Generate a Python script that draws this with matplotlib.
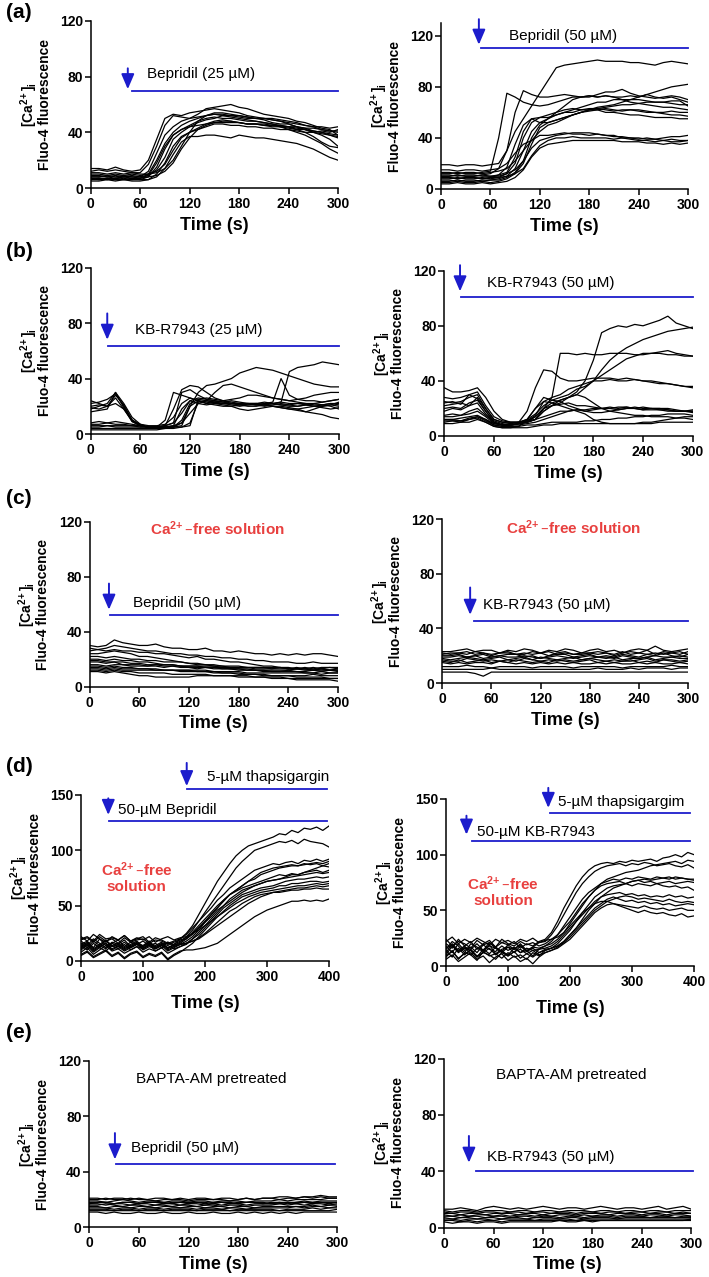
import numpy as np
import matplotlib.pyplot as plt

plt.rcParams['font.family'] = ['Liberation Sans', 'DejaVu Sans']
plt.rcParams['mathtext.default'] = 'regular'

# time axes (s)
t300 = np.arange(0, 301, 10)
t400 = np.arange(0, 401, 10)

# (a) Bepridil 25 uM
bep25 = [
    [14, 14, 13, 15, 13, 12, 13, 20, 35, 50, 53, 52, 54, 55, 56, 57, 56, 55, 54, 52, 51, 50, 50, 49, 48, 47, 45, 44, 42, 41, 40],
    [12, 13, 12, 13, 12, 11, 11, 17, 30, 45, 52, 51, 50, 51, 52, 53, 52, 52, 51, 50, 50, 49, 47, 46, 46, 44, 43, 41, 40, 39, 38],
    [8, 8, 9, 8, 9, 8, 8, 12, 25, 38, 44, 48, 50, 53, 57, 58, 59, 60, 58, 57, 55, 53, 52, 51, 50, 48, 47, 45, 43, 42, 38],
    [7, 7, 6, 7, 8, 7, 7, 10, 20, 32, 40, 45, 48, 50, 52, 54, 54, 53, 52, 51, 50, 50, 49, 48, 46, 44, 42, 40, 38, 35, 30],
    [6, 6, 7, 6, 6, 6, 6, 8, 15, 28, 38, 42, 45, 48, 50, 51, 50, 50, 49, 48, 48, 47, 46, 45, 44, 42, 40, 37, 33, 30, 29],
    [9, 9, 8, 9, 8, 9, 8, 9, 13, 22, 35, 40, 44, 47, 49, 50, 52, 51, 50, 49, 48, 47, 46, 44, 42, 40, 38, 35, 32, 28, 25],
    [5, 5, 6, 5, 6, 5, 5, 6, 10, 18, 30, 37, 40, 42, 44, 46, 46, 45, 45, 44, 44, 43, 43, 42, 42, 41, 40, 40, 41, 40, 42],
    [10, 10, 9, 10, 9, 10, 9, 10, 12, 17, 27, 36, 40, 43, 46, 48, 49, 48, 47, 46, 46, 45, 44, 44, 43, 42, 42, 41, 40, 38, 37],
    [6, 7, 6, 7, 6, 7, 6, 6, 8, 14, 24, 33, 37, 37, 38, 38, 37, 36, 38, 37, 36, 36, 35, 34, 33, 32, 30, 28, 25, 22, 20],
    [11, 11, 10, 11, 10, 11, 10, 10, 11, 14, 20, 30, 40, 48, 52, 53, 53, 52, 52, 51, 50, 50, 49, 48, 47, 46, 45, 44, 44, 43, 44],
    [8, 8, 8, 7, 8, 8, 7, 8, 9, 12, 18, 28, 36, 42, 45, 47, 48, 48, 47, 46, 46, 46, 45, 45, 44, 43, 42, 40, 39, 38, 36],
    [7, 6, 7, 6, 7, 6, 7, 9, 18, 30, 38, 42, 44, 45, 46, 47, 47, 47, 47, 46, 46, 45, 45, 44, 44, 44, 43, 43, 42, 41, 41],
]

# (a) Bepridil 50 uM
bep50 = [
    [19, 19, 18, 19, 19, 18, 19, 20, 30, 45, 55, 65, 75, 85, 95, 97, 98, 99, 100, 101, 100, 100, 100, 99, 99, 98, 97, 99, 100, 99, 98],
    [12, 12, 13, 12, 12, 13, 14, 40, 75, 72, 68, 66, 65, 66, 68, 70, 72, 72, 73, 72, 73, 72, 72, 73, 72, 74, 72, 71, 72, 70, 68],
    [10, 10, 11, 10, 10, 11, 12, 16, 30, 60, 77, 74, 72, 72, 73, 74, 73, 72, 72, 74, 76, 76, 78, 75, 73, 72, 71, 72, 73, 72, 70],
    [9, 9, 8, 9, 9, 8, 9, 11, 17, 35, 50, 55, 52, 52, 54, 56, 58, 60, 62, 64, 65, 66, 68, 70, 72, 74, 76, 78, 80, 81, 82],
    [8, 8, 9, 8, 8, 9, 8, 9, 12, 20, 40, 52, 56, 58, 60, 62, 63, 62, 62, 62, 63, 62, 61, 62, 62, 61, 60, 60, 61, 60, 60],
    [11, 11, 10, 11, 11, 10, 10, 11, 13, 25, 45, 55, 56, 56, 58, 60, 62, 64, 66, 68, 68, 70, 70, 68, 67, 66, 65, 64, 64, 63, 62],
    [6, 6, 7, 6, 6, 7, 7, 8, 10, 16, 30, 45, 52, 55, 58, 60, 60, 62, 63, 63, 62, 61, 62, 62, 61, 60, 60, 59, 58, 58, 57],
    [7, 7, 6, 7, 7, 6, 7, 7, 9, 13, 22, 40, 50, 55, 60, 65, 70, 72, 73, 72, 73, 72, 70, 70, 70, 69, 68, 68, 67, 66, 66],
    [5, 5, 6, 5, 5, 6, 5, 6, 8, 12, 20, 35, 48, 52, 54, 56, 58, 60, 61, 62, 60, 60, 59, 58, 58, 57, 56, 56, 56, 55, 55],
    [13, 13, 12, 13, 13, 12, 13, 14, 16, 22, 30, 38, 42, 42, 43, 44, 43, 43, 42, 43, 42, 41, 41, 40, 40, 39, 39, 38, 39, 38, 38],
    [10, 10, 11, 10, 10, 11, 10, 10, 12, 15, 22, 32, 38, 40, 42, 43, 44, 44, 44, 43, 42, 42, 40, 40, 39, 40, 39, 40, 41, 41, 42],
    [4, 4, 5, 4, 4, 5, 4, 5, 6, 9, 15, 25, 32, 35, 36, 37, 38, 38, 38, 38, 38, 38, 37, 37, 37, 36, 36, 35, 36, 35, 36],
    [9, 9, 8, 9, 9, 8, 9, 9, 10, 12, 16, 26, 34, 38, 40, 40, 41, 40, 40, 40, 40, 39, 40, 39, 38, 38, 37, 38, 37, 37, 38],
    [15, 15, 14, 15, 15, 14, 15, 16, 20, 28, 35, 38, 45, 50, 52, 55, 58, 60, 62, 63, 64, 65, 66, 66, 67, 68, 68, 68, 69, 69, 65],
]

# (b) KB-R7943 25 uM
kb25 = [
    [22, 23, 25, 29, 20, 10, 6, 5, 5, 5, 5, 6, 20, 30, 35, 36, 38, 40, 44, 46, 48, 47, 46, 44, 42, 40, 38, 36, 35, 34, 34],
    [18, 20, 22, 30, 22, 12, 7, 5, 5, 6, 8, 30, 32, 28, 25, 24, 23, 22, 22, 22, 21, 22, 23, 40, 28, 25, 24, 24, 23, 24, 25],
    [20, 21, 20, 28, 21, 10, 6, 5, 5, 5, 5, 5, 6, 25, 26, 25, 24, 23, 22, 22, 22, 23, 22, 23, 45, 48, 49, 50, 52, 51, 50],
    [8, 9, 8, 9, 8, 7, 6, 5, 5, 10, 30, 28, 26, 24, 22, 23, 24, 25, 26, 28, 28, 27, 26, 25, 24, 25, 26, 28, 29, 30, 30],
    [7, 7, 8, 7, 7, 6, 6, 5, 5, 6, 18, 32, 35, 34, 30, 26, 24, 22, 21, 20, 20, 21, 22, 21, 20, 20, 21, 20, 19, 18, 19],
    [5, 5, 6, 5, 5, 5, 5, 5, 5, 5, 6, 8, 20, 24, 23, 22, 22, 21, 20, 21, 22, 21, 20, 20, 19, 18, 16, 15, 14, 12, 11],
    [4, 4, 4, 4, 4, 4, 4, 4, 4, 4, 4, 5, 8, 23, 24, 23, 22, 22, 21, 22, 21, 20, 21, 22, 21, 20, 21, 22, 21, 22, 22],
    [19, 18, 20, 26, 18, 9, 6, 5, 5, 5, 6, 18, 24, 22, 21, 22, 21, 20, 18, 17, 18, 19, 20, 19, 18, 17, 16, 18, 20, 21, 23],
    [24, 22, 20, 22, 18, 10, 7, 6, 6, 7, 12, 22, 26, 24, 22, 21, 20, 20, 21, 22, 22, 21, 22, 23, 22, 22, 21, 20, 20, 21, 20],
    [6, 6, 6, 6, 6, 6, 5, 5, 5, 6, 8, 15, 24, 26, 25, 24, 23, 24, 23, 22, 22, 21, 20, 19, 18, 18, 19, 20, 21, 20, 18],
    [16, 17, 18, 30, 19, 9, 6, 5, 5, 5, 5, 10, 22, 25, 24, 23, 22, 22, 22, 21, 21, 22, 22, 21, 21, 22, 22, 21, 21, 22, 21],
    [3, 3, 3, 3, 3, 3, 3, 3, 3, 4, 5, 8, 15, 22, 24, 30, 35, 36, 34, 32, 30, 28, 26, 25, 24, 23, 22, 22, 23, 24, 25],
]

# (b) KB-R7943 50 uM
kb50 = [
    [35, 32, 32, 33, 35, 28, 18, 12, 10, 10, 12, 20, 28, 26, 25, 22, 20, 18, 17, 17, 18, 19, 20, 20, 21, 20, 20, 19, 18, 18, 18],
    [22, 23, 24, 22, 28, 20, 12, 10, 9, 10, 18, 35, 48, 47, 42, 40, 40, 41, 42, 42, 42, 41, 42, 41, 40, 40, 39, 38, 37, 36, 36],
    [20, 21, 20, 24, 26, 18, 10, 8, 8, 9, 10, 12, 20, 28, 60, 60, 59, 60, 59, 59, 60, 60, 60, 59, 59, 60, 60, 59, 59, 58, 58],
    [18, 20, 19, 22, 24, 16, 10, 8, 8, 9, 10, 12, 18, 22, 24, 28, 32, 40, 55, 75, 78, 80, 79, 81, 80, 82, 84, 87, 82, 80, 78],
    [15, 16, 15, 18, 20, 15, 10, 8, 8, 9, 10, 14, 20, 24, 26, 28, 30, 35, 40, 48, 55, 60, 64, 67, 70, 72, 74, 76, 77, 78, 79],
    [12, 12, 13, 14, 15, 12, 9, 8, 9, 10, 12, 16, 22, 26, 28, 30, 34, 36, 40, 44, 48, 52, 56, 58, 60, 60, 61, 62, 60, 59, 58],
    [10, 11, 10, 12, 14, 12, 8, 7, 8, 9, 11, 15, 25, 28, 30, 34, 36, 38, 40, 40, 41, 40, 40, 41, 40, 39, 38, 38, 37, 36, 35],
    [25, 24, 25, 28, 30, 20, 12, 10, 10, 10, 11, 14, 20, 22, 23, 24, 22, 22, 21, 20, 20, 21, 21, 20, 19, 20, 20, 20, 19, 18, 18],
    [14, 14, 15, 16, 18, 14, 9, 8, 8, 8, 9, 10, 12, 14, 16, 18, 19, 19, 20, 20, 20, 19, 20, 21, 20, 20, 19, 19, 18, 18, 17],
    [12, 12, 11, 13, 14, 11, 8, 7, 7, 7, 8, 8, 9, 10, 10, 10, 10, 11, 11, 12, 12, 13, 13, 14, 14, 15, 15, 16, 16, 16, 15],
    [9, 9, 10, 10, 12, 10, 7, 6, 6, 7, 12, 20, 25, 24, 22, 20, 18, 16, 12, 10, 9, 9, 9, 9, 10, 10, 11, 12, 13, 14, 14],
    [11, 11, 11, 12, 13, 10, 7, 6, 6, 6, 6, 7, 8, 8, 9, 9, 9, 9, 9, 9, 9, 9, 9, 9, 9, 9, 10, 10, 10, 10, 10],
    [24, 25, 23, 30, 27, 18, 11, 9, 8, 9, 10, 12, 18, 22, 26, 28, 30, 28, 24, 20, 18, 17, 16, 15, 15, 14, 14, 14, 13, 13, 12],
    [28, 27, 28, 30, 32, 22, 14, 11, 10, 10, 11, 12, 14, 16, 18, 18, 19, 18, 19, 20, 21, 20, 21, 20, 19, 19, 19, 18, 18, 18, 19],
]

# (c) Ca2+-free, Bepridil 50 uM
free_bep = [
    [30, 29, 30, 34, 32, 31, 30, 30, 31, 29, 28, 28, 27, 27, 28, 26, 26, 25, 26, 25, 24, 24, 23, 24, 23, 24, 23, 24, 24, 23, 22],
    [28, 27, 28, 30, 29, 28, 27, 26, 26, 25, 24, 24, 23, 23, 22, 22, 21, 21, 20, 20, 19, 19, 18, 18, 18, 17, 17, 18, 17, 17, 17],
    [26, 27, 26, 27, 26, 26, 25, 25, 24, 24, 23, 22, 21, 22, 20, 20, 19, 18, 18, 17, 16, 15, 15, 14, 14, 13, 13, 12, 12, 12, 12],
    [22, 22, 21, 22, 21, 20, 20, 19, 19, 18, 18, 18, 17, 17, 16, 16, 15, 15, 15, 14, 14, 14, 13, 13, 13, 13, 13, 12, 13, 12, 13],
    [20, 20, 19, 20, 19, 19, 18, 18, 17, 16, 16, 15, 15, 15, 14, 14, 14, 13, 13, 12, 12, 12, 11, 11, 11, 11, 10, 10, 11, 10, 10],
    [18, 18, 17, 18, 16, 16, 16, 15, 15, 14, 15, 14, 14, 13, 14, 13, 13, 13, 12, 12, 12, 11, 11, 11, 12, 11, 11, 12, 11, 12, 11],
    [16, 16, 15, 16, 16, 15, 15, 15, 16, 15, 15, 15, 14, 14, 14, 14, 13, 13, 13, 13, 12, 12, 12, 12, 12, 13, 12, 12, 13, 12, 12],
    [15, 15, 14, 15, 14, 14, 13, 13, 13, 12, 12, 12, 12, 11, 11, 11, 10, 10, 10, 9, 9, 8, 8, 8, 8, 7, 7, 7, 7, 6, 6],
    [14, 14, 13, 14, 13, 13, 13, 13, 12, 12, 12, 11, 11, 11, 11, 10, 10, 10, 9, 9, 9, 9, 8, 8, 8, 8, 8, 9, 8, 8, 8],
    [13, 13, 12, 13, 12, 12, 12, 12, 12, 12, 12, 12, 12, 12, 12, 11, 11, 11, 11, 10, 10, 10, 10, 10, 10, 10, 10, 10, 9, 10, 10],
    [12, 12, 11, 12, 11, 11, 10, 10, 10, 10, 9, 9, 9, 9, 9, 8, 8, 8, 7, 7, 7, 7, 6, 6, 6, 5, 5, 5, 5, 5, 4],
    [11, 11, 10, 11, 10, 9, 8, 8, 7, 7, 7, 7, 7, 8, 8, 8, 8, 8, 8, 8, 7, 7, 7, 7, 6, 6, 6, 6, 6, 6, 6],
    [19, 19, 18, 18, 18, 17, 17, 16, 16, 16, 16, 15, 15, 15, 15, 15, 14, 14, 14, 14, 14, 14, 14, 14, 13, 14, 13, 14, 13, 14, 13],
    [24, 24, 25, 26, 25, 24, 22, 22, 21, 20, 19, 18, 17, 16, 16, 15, 15, 14, 14, 14, 13, 13, 13, 14, 13, 13, 14, 13, 14, 14, 14],
]

# (c) Ca2+-free, KB-R7943 50 uM
free_kb = [
    [23, 23, 24, 25, 23, 24, 24, 22, 24, 23, 25, 24, 22, 24, 23, 25, 24, 22, 24, 25, 23, 24, 22, 24, 25, 24, 27, 24, 23, 24, 25],
    [22, 21, 22, 23, 21, 22, 20, 22, 23, 21, 21, 23, 22, 20, 22, 23, 21, 21, 22, 23, 22, 20, 22, 23, 22, 24, 21, 23, 22, 21, 23],
    [20, 20, 21, 19, 20, 21, 19, 20, 21, 21, 19, 20, 18, 20, 21, 21, 19, 20, 21, 19, 20, 19, 21, 20, 19, 21, 20, 22, 20, 19, 21],
    [18, 17, 18, 19, 18, 17, 18, 19, 17, 18, 19, 17, 19, 18, 17, 18, 19, 17, 18, 19, 18, 19, 17, 18, 18, 19, 17, 18, 19, 18, 18],
    [17, 16, 16, 18, 17, 16, 17, 16, 17, 16, 18, 17, 16, 17, 16, 17, 16, 17, 18, 17, 16, 17, 16, 16, 17, 18, 16, 17, 17, 16, 17],
    [16, 15, 17, 15, 16, 17, 15, 16, 15, 17, 16, 15, 16, 15, 17, 16, 15, 16, 17, 15, 16, 15, 16, 17, 15, 16, 15, 17, 16, 15, 16],
    [15, 14, 15, 14, 15, 15, 14, 16, 15, 14, 15, 14, 15, 14, 15, 14, 15, 14, 14, 15, 14, 15, 14, 14, 15, 14, 15, 14, 14, 15, 14],
    [19, 19, 20, 19, 20, 18, 19, 20, 19, 19, 20, 19, 18, 19, 20, 19, 18, 19, 20, 19, 19, 18, 20, 19, 18, 19, 20, 19, 19, 20, 19],
    [12, 12, 12, 13, 12, 12, 11, 12, 12, 12, 12, 11, 12, 12, 12, 12, 11, 12, 12, 12, 12, 12, 11, 12, 12, 12, 12, 12, 13, 12, 12],
    [10, 10, 10, 10, 10, 10, 11, 10, 10, 10, 10, 10, 10, 10, 10, 10, 10, 10, 10, 11, 10, 10, 10, 11, 10, 11, 11, 11, 10, 11, 11],
    [8, 8, 8, 8, 7, 5, 8, 8, 8, 8, 8, 8, 8, 8, 8, 8, 8, 8, 8, 8, 8, 8, 8, 8, 8, 8, 8, 8, 8, 8, 8],
    [21, 22, 22, 21, 23, 22, 21, 22, 22, 21, 22, 21, 22, 23, 21, 22, 21, 22, 22, 21, 22, 21, 23, 21, 22, 21, 22, 21, 22, 23, 21],
]

# (d) Ca2+-free, 50 uM Bepridil then 5 uM thapsigargin
tg_bep = [
    [15, 18, 12, 20, 14, 16, 19, 13, 17, 15, 18, 14, 16, 12, 17, 15, 20, 25, 32, 42, 52, 62, 72, 80, 88, 95, 100, 104, 106, 108, 110, 112, 115, 114, 118, 116, 120, 119, 121, 118, 122],
    [12, 16, 10, 14, 18, 13, 15, 11, 14, 17, 12, 15, 13, 16, 12, 14, 17, 22, 28, 36, 44, 52, 60, 68, 76, 84, 90, 95, 100, 102, 104, 106, 108, 107, 109, 106, 110, 108, 107, 106, 103],
    [20, 22, 18, 24, 20, 21, 19, 23, 18, 20, 22, 17, 21, 19, 16, 18, 20, 24, 30, 36, 42, 48, 55, 60, 66, 70, 74, 78, 82, 84, 86, 88, 87, 89, 90, 88, 91, 90, 92, 90, 92],
    [10, 14, 8, 12, 16, 10, 13, 9, 12, 15, 10, 13, 11, 14, 9, 12, 15, 18, 22, 28, 35, 42, 48, 55, 60, 64, 68, 72, 76, 80, 82, 84, 85, 86, 87, 86, 88, 87, 88, 86, 88],
    [18, 14, 20, 16, 12, 17, 15, 19, 13, 16, 14, 18, 12, 15, 17, 14, 16, 20, 26, 32, 38, 44, 50, 55, 60, 63, 66, 68, 70, 72, 74, 76, 78, 77, 79, 78, 80, 81, 82, 80, 82],
    [8, 12, 6, 10, 14, 9, 11, 7, 10, 13, 8, 11, 9, 12, 7, 10, 13, 15, 20, 26, 32, 38, 44, 50, 54, 58, 62, 65, 68, 70, 72, 73, 74, 75, 76, 77, 78, 79, 80, 79, 80],
    [14, 10, 16, 12, 9, 14, 11, 15, 10, 13, 11, 15, 9, 12, 14, 11, 13, 16, 20, 24, 30, 36, 42, 48, 52, 56, 60, 62, 64, 66, 67, 68, 70, 72, 73, 74, 74, 75, 76, 75, 76],
    [5, 8, 3, 6, 9, 4, 7, 2, 6, 8, 3, 6, 4, 7, 1, 5, 8, 12, 16, 22, 28, 34, 40, 45, 50, 54, 58, 60, 62, 64, 65, 66, 68, 68, 70, 70, 71, 72, 72, 71, 72],
    [22, 18, 24, 20, 17, 22, 19, 23, 18, 21, 19, 22, 17, 20, 22, 19, 21, 22, 25, 28, 32, 36, 40, 44, 48, 52, 55, 58, 60, 62, 63, 64, 65, 66, 67, 68, 68, 69, 70, 69, 70],
    [11, 15, 9, 13, 16, 11, 14, 10, 13, 16, 11, 14, 12, 15, 10, 13, 15, 16, 18, 20, 24, 28, 32, 36, 40, 44, 48, 52, 55, 58, 60, 62, 63, 64, 65, 66, 66, 67, 68, 67, 68],
    [16, 12, 18, 14, 11, 16, 13, 17, 12, 15, 13, 17, 11, 14, 16, 13, 15, 16, 18, 21, 25, 30, 35, 40, 45, 48, 52, 55, 58, 60, 61, 62, 62, 63, 64, 64, 65, 65, 66, 65, 65],
    [6, 9, 4, 7, 10, 5, 8, 3, 7, 9, 4, 7, 5, 8, 2, 6, 9, 10, 10, 11, 12, 14, 16, 20, 24, 28, 32, 36, 40, 43, 46, 48, 50, 52, 54, 54, 55, 54, 55, 54, 56],
    [13, 17, 11, 15, 19, 14, 16, 12, 15, 18, 13, 16, 14, 17, 11, 15, 18, 20, 24, 30, 36, 42, 48, 54, 60, 64, 68, 72, 74, 78, 80, 82, 84, 85, 86, 86, 87, 88, 89, 88, 90],
    [19, 21, 17, 22, 18, 20, 16, 21, 17, 19, 20, 16, 19, 18, 15, 17, 19, 21, 25, 30, 35, 40, 46, 50, 56, 60, 64, 66, 68, 70, 72, 73, 74, 76, 78, 78, 80, 82, 84, 86, 85],
]

# (d) Ca2+-free, 50 uM KB-R7943 then 5 uM thapsigargin
tg_kb = [
    [20, 16, 24, 18, 22, 15, 20, 23, 17, 21, 19, 22, 16, 20, 18, 22, 24, 30, 40, 52, 62, 72, 80, 86, 90, 92, 93, 92, 94, 93, 95, 94, 95, 96, 94, 97, 98, 100, 98, 102, 100],
    [15, 22, 18, 12, 20, 17, 14, 21, 16, 13, 19, 15, 20, 14, 17, 21, 22, 28, 36, 46, 56, 66, 74, 80, 85, 88, 90, 91, 92, 90, 92, 91, 93, 92, 90, 91, 92, 90, 89, 91, 88],
    [10, 18, 12, 16, 14, 8, 15, 11, 17, 13, 10, 16, 12, 14, 9, 15, 18, 22, 28, 36, 44, 52, 60, 66, 70, 74, 76, 78, 77, 79, 78, 80, 79, 78, 80, 79, 78, 80, 79, 78, 78],
    [24, 18, 22, 20, 16, 23, 19, 21, 17, 24, 20, 18, 22, 19, 21, 18, 20, 24, 28, 34, 40, 48, 56, 62, 68, 72, 74, 75, 76, 74, 76, 77, 75, 76, 74, 75, 76, 74, 75, 76, 75],
    [8, 14, 6, 12, 10, 5, 13, 9, 11, 7, 12, 8, 10, 6, 12, 9, 14, 16, 20, 26, 32, 40, 48, 55, 62, 66, 70, 72, 73, 74, 72, 74, 73, 72, 74, 72, 71, 72, 70, 71, 68],
    [18, 12, 20, 14, 17, 12, 19, 15, 13, 18, 14, 17, 12, 16, 14, 15, 16, 18, 22, 28, 34, 40, 46, 52, 58, 62, 64, 65, 66, 64, 65, 63, 64, 62, 63, 62, 64, 62, 63, 61, 62],
    [12, 20, 14, 18, 10, 16, 13, 19, 11, 15, 17, 12, 18, 13, 16, 12, 15, 16, 18, 22, 28, 34, 40, 46, 52, 56, 60, 62, 60, 58, 59, 57, 58, 56, 57, 55, 56, 54, 55, 56, 55],
    [6, 10, 4, 8, 12, 6, 9, 3, 8, 11, 5, 9, 4, 7, 2, 8, 12, 14, 16, 20, 24, 30, 36, 42, 48, 52, 55, 56, 55, 54, 53, 52, 54, 52, 51, 52, 50, 51, 52, 50, 50],
    [22, 26, 20, 24, 21, 25, 22, 19, 24, 21, 23, 20, 24, 22, 25, 21, 23, 24, 26, 30, 36, 42, 48, 52, 56, 58, 58, 56, 54, 52, 50, 48, 50, 48, 47, 48, 46, 45, 47, 44, 45],
    [14, 8, 16, 10, 15, 9, 12, 16, 10, 14, 9, 13, 15, 11, 14, 10, 12, 14, 17, 21, 26, 32, 38, 44, 50, 54, 58, 60, 62, 63, 62, 60, 61, 60, 59, 58, 60, 58, 57, 58, 57],
    [16, 19, 13, 17, 15, 20, 14, 18, 16, 12, 17, 15, 19, 13, 17, 16, 18, 20, 24, 30, 38, 46, 54, 62, 68, 74, 78, 80, 82, 84, 85, 86, 88, 90, 91, 92, 93, 94, 92, 95, 94],
    [9, 13, 7, 11, 14, 8, 12, 10, 6, 12, 9, 13, 7, 11, 8, 12, 14, 16, 18, 22, 28, 34, 42, 50, 56, 62, 66, 70, 72, 74, 76, 77, 78, 77, 78, 79, 80, 78, 79, 78, 77],
]

# (e) BAPTA-AM pretreated, Bepridil 50 uM
bapta_bep = [
    [20, 20, 21, 20, 20, 21, 20, 20, 19, 20, 20, 20, 19, 20, 20, 20, 20, 19, 20, 21, 20, 21, 21, 22, 22, 21, 22, 22, 23, 22, 22],
    [19, 19, 18, 19, 20, 19, 18, 19, 19, 18, 19, 19, 18, 19, 19, 18, 19, 19, 19, 18, 19, 19, 19, 20, 19, 20, 20, 20, 20, 21, 21],
    [18, 18, 18, 17, 18, 18, 17, 18, 18, 18, 17, 18, 18, 18, 17, 18, 18, 17, 18, 18, 18, 18, 17, 18, 18, 18, 19, 18, 19, 19, 19],
    [17, 17, 16, 17, 17, 16, 17, 17, 16, 17, 17, 16, 17, 17, 16, 17, 16, 17, 17, 16, 17, 17, 17, 17, 18, 17, 18, 18, 18, 18, 18],
    [16, 16, 17, 16, 15, 16, 16, 15, 16, 16, 15, 16, 16, 15, 16, 16, 15, 16, 16, 15, 16, 16, 16, 17, 16, 17, 16, 17, 17, 16, 17],
    [15, 15, 14, 15, 15, 14, 15, 15, 14, 15, 15, 14, 15, 15, 14, 15, 15, 14, 15, 15, 14, 15, 15, 15, 15, 15, 15, 16, 15, 16, 16],
    [14, 14, 14, 13, 14, 14, 13, 14, 14, 13, 14, 14, 14, 13, 14, 14, 13, 14, 14, 13, 14, 14, 14, 14, 14, 15, 14, 15, 15, 14, 15],
    [13, 13, 13, 12, 13, 13, 12, 13, 13, 12, 13, 13, 13, 12, 13, 13, 13, 12, 13, 13, 13, 13, 13, 12, 13, 13, 13, 14, 13, 14, 14],
    [12, 12, 12, 12, 12, 12, 12, 12, 12, 12, 12, 12, 12, 12, 12, 12, 12, 12, 12, 12, 12, 12, 12, 12, 12, 12, 12, 12, 12, 12, 13],
    [11, 11, 10, 11, 10, 10, 11, 10, 10, 11, 10, 10, 11, 10, 10, 11, 10, 10, 11, 10, 11, 10, 11, 10, 11, 10, 11, 11, 11, 11, 11],
    [21, 21, 20, 21, 21, 20, 21, 20, 21, 21, 20, 21, 20, 21, 21, 20, 21, 21, 20, 21, 20, 21, 21, 20, 21, 21, 22, 21, 22, 21, 21],
    [17, 18, 18, 17, 18, 18, 17, 18, 18, 17, 18, 18, 17, 18, 18, 17, 18, 18, 17, 18, 18, 17, 18, 18, 17, 18, 18, 17, 18, 17, 18],
]

# (e) BAPTA-AM pretreated, KB-R7943 50 uM
bapta_kb = [
    [13, 13, 14, 13, 12, 14, 15, 14, 13, 14, 13, 14, 15, 14, 13, 14, 14, 13, 14, 15, 14, 13, 14, 14, 13, 14, 15, 13, 14, 15, 13],
    [12, 11, 12, 12, 11, 12, 12, 12, 11, 12, 12, 11, 12, 12, 11, 12, 12, 12, 11, 12, 12, 11, 12, 12, 11, 12, 12, 11, 12, 12, 12],
    [10, 10, 9, 10, 10, 9, 10, 10, 10, 9, 10, 10, 9, 10, 10, 10, 9, 10, 10, 10, 9, 10, 10, 10, 9, 10, 10, 9, 10, 10, 10],
    [9, 8, 9, 8, 9, 9, 8, 9, 8, 9, 9, 8, 9, 8, 9, 9, 8, 9, 8, 9, 9, 8, 9, 9, 8, 9, 9, 8, 9, 9, 8],
    [8, 8, 7, 8, 8, 7, 8, 8, 7, 8, 8, 7, 8, 8, 7, 8, 8, 7, 8, 8, 8, 7, 8, 8, 8, 7, 8, 8, 7, 8, 8],
    [7, 6, 7, 7, 6, 7, 7, 6, 7, 7, 6, 7, 7, 7, 6, 7, 7, 6, 7, 7, 7, 6, 7, 7, 7, 7, 7, 7, 7, 7, 7],
    [6, 6, 5, 6, 6, 6, 5, 6, 6, 6, 6, 5, 6, 6, 6, 6, 5, 6, 6, 6, 6, 6, 6, 6, 6, 6, 6, 6, 6, 6, 6],
    [5, 5, 4, 5, 4, 5, 5, 4, 5, 5, 5, 5, 5, 5, 5, 5, 5, 5, 5, 5, 5, 5, 5, 5, 5, 5, 5, 5, 5, 5, 6],
    [4, 3, 4, 4, 3, 4, 4, 3, 4, 4, 4, 4, 4, 4, 5, 4, 4, 5, 4, 5, 5, 5, 5, 5, 5, 5, 5, 5, 5, 5, 5],
    [11, 10, 11, 11, 10, 11, 11, 10, 11, 11, 10, 11, 11, 10, 11, 11, 10, 11, 11, 10, 11, 11, 10, 11, 11, 10, 11, 11, 10, 11, 10],
]

W, H = 709, 1277
BLUE = '#1c1ccc'
RED = '#e8403f'
YLAB1 = '[Ca$^{2\\!+}$]$_{i}$'
YLAB2 = 'Fluo-4 fluorescence'
CAFREE = 'Ca$^{2\\!+}$\u2013free'

fig = plt.figure(figsize=(W / 100, H / 100), dpi=100)


def make_axes(x0, x1, ytop, ybot):
    ax = fig.add_axes([x0 / W, 1 - ybot / H, (x1 - x0) / W, (ybot - ytop) / H])
    # y label drawn as two rotated lines, like the Prism export
    cy = 1 - (ytop + ybot) / 2 / H
    fig.text((x0 - 62) / W, cy, YLAB1, rotation=90, ha='center', va='center',
             fontsize=10, fontweight='bold')
    fig.text((x0 - 46) / W, cy, YLAB2, rotation=90, ha='center', va='center',
             fontsize=10, fontweight='bold')
    return ax


def draw_traces(ax, t, traces, xmax, ymax, xticks, yticks):
    for tr in traces:
        ax.plot(t, tr, color='black', lw=0.9)
    ax.set_xlim(0, xmax)
    ax.set_ylim(0, ymax)
    ax.set_xticks(xticks)
    ax.set_yticks(yticks)
    for s in ['top', 'right']:
        ax.spines[s].set_visible(False)
    for s in ['left', 'bottom']:
        ax.spines[s].set_linewidth(1.1)
    ax.tick_params(direction='out', length=4, width=1.1, labelsize=10)
    ax.tick_params(axis='y', pad=1.5)
    ax.tick_params(axis='x', pad=2.5)
    for lab in ax.get_xticklabels() + ax.get_yticklabels():
        lab.set_fontweight('bold')
    ax.set_xlabel('Time (s)', fontsize=13, fontweight='bold', labelpad=4)


def drug_marker(ax, x_arrow, y_top, y_bot, x_start, x_end, y_line, label, x_text, y_text):
    ax.annotate('', xy=(x_arrow, y_bot), xytext=(x_arrow, y_top),
                arrowprops=dict(arrowstyle='-|>,head_length=0.7,head_width=0.3',
                                color=BLUE, lw=1.4, mutation_scale=13, shrinkA=0, shrinkB=0),
                annotation_clip=False)
    ax.plot([x_start, x_end], [y_line, y_line], color=BLUE, lw=1.3, clip_on=False)
    ax.text(x_text, y_text, label, fontsize=11, ha='left', va='center', clip_on=False)


x300 = [0, 60, 120, 180, 240, 300]
x400 = [0, 100, 200, 300, 400]
y120 = [0, 40, 80, 120]
y150 = [0, 50, 100, 150]
mu = '\u00b5'

# row (a)
ax = make_axes(90.7, 338, 21, 188)
draw_traces(ax, t300, bep25, 300, 120, x300, y120)
drug_marker(ax, 45, 86, 71, 50, 300, 70, f'Bepridil (25 {mu}M)', 68, 82)

ax = make_axes(441, 688, 23, 189)
draw_traces(ax, t300, bep50, 300, 130, x300, y120)
drug_marker(ax, 46, 133, 113, 49, 300, 110.3, f'Bepridil (50 {mu}M)', 82, 119.5)

# row (b)
ax = make_axes(90.7, 339, 267.7, 434)
draw_traces(ax, t300, kb25, 300, 120, x300, y120)
drug_marker(ax, 20, 87, 68, 21, 300, 63.7, f'KB-R7943 (25 {mu}M)', 53, 75)

ax = make_axes(444.3, 692.7, 270.7, 436)
draw_traces(ax, t300, kb50, 300, 120, x300, y120)
drug_marker(ax, 19, 124, 105, 20, 300, 100.7, f'KB-R7943 (50 {mu}M)', 52, 111)

# row (c)
ax = make_axes(89.5, 338, 521.7, 686.7)
draw_traces(ax, t300, free_bep, 300, 120, x300, y120)
drug_marker(ax, 23.5, 75, 56, 25, 300, 52, f'Bepridil (50 {mu}M)', 52, 61)
ax.text(155, 115, CAFREE + ' solution', color=RED, fontsize=11,
        fontweight='bold', ha='center', va='center')

ax = make_axes(442.3, 688, 519.3, 683)
draw_traces(ax, t300, free_kb, 300, 120, x300, y120)
drug_marker(ax, 34, 70, 50, 39, 300, 45.4, f'KB-R7943 (50 {mu}M)', 50, 57.5)
ax.text(160, 114, CAFREE + ' solution', color=RED, fontsize=11,
        fontweight='bold', ha='center', va='center')

# row (d)
ax = make_axes(81, 329, 795, 961)
draw_traces(ax, t400, tg_bep, 400, 150, x400, y150)
ax.xaxis.labelpad = 8
drug_marker(ax, 170.5, 179, 158, 171.5, 396, 155.4, f'5-{mu}M thapsigargin', 204, 166.5)
drug_marker(ax, 44, 147, 132, 45.6, 396, 126.7, f'50-{mu}M Bepridil', 60, 136.4)
ax.text(90, 76, CAFREE + '\nsolution', color=RED, fontsize=11,
        fontweight='bold', ha='center', va='center', linespacing=1.1)

ax = make_axes(446, 694, 799, 966)
draw_traces(ax, t400, tg_kb, 400, 150, x400, y150)
ax.xaxis.labelpad = 8
drug_marker(ax, 165, 160, 142, 168, 394, 137, f'5-{mu}M thapsigargim', 181, 147.6)
drug_marker(ax, 33, 135, 118, 41.5, 394, 112.3, f'50-{mu}M KB-R7943', 49.5, 120)
ax.text(92.5, 67, CAFREE + '\nsolution', color=RED, fontsize=11,
        fontweight='bold', ha='center', va='center', linespacing=1.1)

# row (e)
ax = make_axes(89.3, 337.3, 1061, 1227.3)
draw_traces(ax, t300, bapta_bep, 300, 120, x300, y120)
drug_marker(ax, 31, 68, 49, 32, 297, 46, f'Bepridil (50 {mu}M)', 51, 57)
ax.text(56.5, 107, 'BAPTA-AM pretreated', fontsize=11, ha='left', va='center')

ax = make_axes(444.2, 691.3, 1058.5, 1227.5)
draw_traces(ax, t300, bapta_kb, 300, 120, x300, y120)
drug_marker(ax, 30, 65, 46, 38.6, 302, 40, f'KB-R7943 (50 {mu}M)', 52, 50)
ax.text(63, 108, 'BAPTA-AM pretreated', fontsize=11, ha='left', va='center')

# panel letters
for lab, cy in [('(a)', 13), ('(b)', 251.7), ('(c)', 498.3), ('(d)', 766.7), ('(e)', 1033)]:
    fig.text(6 / W, 1 - cy / H, lab, fontsize=15, fontweight='bold', ha='left', va='center')

fig.savefig('out.png', dpi=100)
